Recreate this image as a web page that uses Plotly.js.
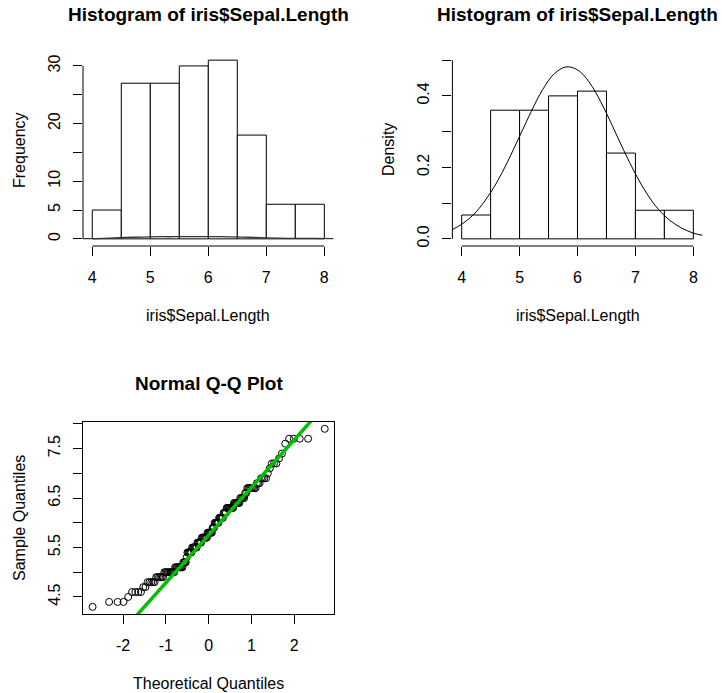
<!DOCTYPE html>
<html><head><meta charset="utf-8">
<script src="https://cdn.plot.ly/plotly-3.0.1.min.js"></script>
<style>html,body{margin:0;padding:0;background:#fff}#chart{width:722px;height:693px}</style>
</head><body><div id="chart"></div>
<script>
// ---- Histogram data (iris$Sepal.Length, breaks every 0.5) ----
const binStarts = [4.0, 4.5, 5.0, 5.5, 6.0, 6.5, 7.0, 7.5];
const binWidth = 0.5;
const binCounts = [5, 27, 27, 30, 31, 18, 6, 6];
const binDensities = [0.0667, 0.36, 0.36, 0.40, 0.4133, 0.24, 0.08, 0.08];

// ---- Normal curve on the density histogram ----
const normX = [3.84, 4.0, 4.2, 4.4, 4.6, 4.8, 5.0, 5.2, 5.4, 5.6, 5.8, 6.0, 6.2, 6.4, 6.6, 6.8, 7.0, 7.2, 7.4, 7.6, 7.8, 8.0, 8.16];
const normY = [0.026, 0.041, 0.067, 0.106, 0.156, 0.218, 0.287, 0.356, 0.418, 0.462, 0.481, 0.473, 0.439, 0.384, 0.317, 0.247, 0.182, 0.126, 0.082, 0.051, 0.030, 0.016, 0.010];

// ---- Faint density line drawn on the frequency histogram ----
const kdeX = [3.84, 4.2, 4.6, 5.0, 5.4, 5.8, 6.2, 6.6, 7.0, 7.4, 7.8, 8.16];
const kdeY = [0.03, 0.10, 0.24, 0.36, 0.37, 0.40, 0.39, 0.30, 0.17, 0.08, 0.07, 0.03];

// ---- Sample values for the Q-Q plot (value / count) ----
const sepalValues = [4.3, 4.4, 4.5, 4.6, 4.7, 4.8, 4.9, 5.0, 5.1, 5.2, 5.3, 5.4, 5.5, 5.6, 5.7, 5.8, 5.9, 6.0, 6.1, 6.2, 6.3, 6.4, 6.5, 6.6, 6.7, 6.8, 6.9, 7.0, 7.1, 7.2, 7.3, 7.4, 7.6, 7.7, 7.9];
const sepalCounts = [1, 3, 1, 4, 2, 5, 6, 10, 9, 4, 1, 6, 7, 6, 8, 7, 3, 6, 6, 4, 9, 7, 5, 2, 8, 3, 4, 1, 1, 3, 1, 1, 1, 4, 1];

// ---- Tick labels ----
const histXTicks = [4, 5, 6, 7, 8];
const freqTicks = [0, 5, 10, 15, 20, 25, 30];
const freqTickText = ['0', '5', '10', '', '20', '', '30'];
const densTicks = [0, 0.1, 0.2, 0.3, 0.4, 0.5];
const densTickText = ['0.0', '', '0.2', '', '0.4', ''];
const qqXTicks = [-2, -1, 0, 1, 2];
const qqXTickText = ['-2', '-1', '0', '1', '2'];
const qqYTicks = [4.5, 5.0, 5.5, 6.0, 6.5, 7.0, 7.5, 8.0];
const qqYTickText = ['4.5', '', '5.5', '', '6.5', '', '7.5', ''];

// ---- derived ----
const binCenters = binStarts.map(s => s + binWidth / 2);
const sample = [];
sepalValues.forEach((v, i) => { for (let k = 0; k < sepalCounts[i]; k++) sample.push(v); });
const n = sample.length;

function qnorm(p) {
  const a = [-3.969683028665376e+01, 2.209460984245205e+02, -2.759285104469687e+02, 1.383577518672690e+02, -3.066479806614716e+01, 2.506628277459239e+00];
  const b = [-5.447609879822406e+01, 1.615858368580409e+02, -1.556989798598866e+02, 6.680131188771972e+01, -1.328068155288572e+01];
  const c = [-7.784894002430293e-03, -3.223964580411365e-01, -2.400758277161838e+00, -2.549732539343734e+00, 4.374664141464968e+00, 2.938163982698783e+00];
  const d = [7.784695709041462e-03, 3.224671290700398e-01, 2.445134137142996e+00, 3.754408661907416e+00];
  const pl = 0.02425, ph = 1 - pl;
  let q, r;
  if (p < pl) { q = Math.sqrt(-2 * Math.log(p)); return (((((c[0]*q+c[1])*q+c[2])*q+c[3])*q+c[4])*q+c[5]) / ((((d[0]*q+d[1])*q+d[2])*q+d[3])*q+1); }
  if (p > ph) { q = Math.sqrt(-2 * Math.log(1 - p)); return -(((((c[0]*q+c[1])*q+c[2])*q+c[3])*q+c[4])*q+c[5]) / ((((d[0]*q+d[1])*q+d[2])*q+d[3])*q+1); }
  q = p - 0.5; r = q * q;
  return (((((a[0]*r+a[1])*r+a[2])*r+a[3])*r+a[4])*r+a[5])*q / (((((b[0]*r+b[1])*r+b[2])*r+b[3])*r+b[4])*r+1);
}
const theo = sample.map((_, i) => qnorm((i + 1 - 0.5) / n));
function quant7(arr, p) { const h = (arr.length - 1) * p; const lo = Math.floor(h); return arr[lo] + (h - lo) * (arr[Math.min(lo + 1, arr.length - 1)] - arr[lo]); }
const q1 = quant7(sample, 0.25), q3 = quant7(sample, 0.75);
const slope = (q3 - q1) / (qnorm(0.75) - qnorm(0.25));
const intercept = q1 - slope * qnorm(0.25);

const W = 722, H = 693;
const px = v => v / W, py = v => 1 - v / H;
const dom1x = [px(83), px(333.6)], dom1y = [py(246), py(53)];
const dom2x = [px(452.4), px(702.6)], dom2y = [py(246), py(53)];
const dom3x = [px(83.3), px(334)], dom3y = [py(614), py(421.7)];
const qqXRange = [-2.93, 2.93];
const qqYRange = [4.156, 8.044];

const FONT = 'Liberation Sans, Arial, Helvetica, sans-serif';
const baseAxis = {
  showgrid: false, zeroline: false, ticks: 'outside', ticklen: 9, tickwidth: 1, tickcolor: '#000',
  tickfont: {family: FONT, size: 16, color: '#000'}, fixedrange: true
};
const xAxisExtra = {ticklabelstandoff: 8};
const yAxisExtra = {ticklabelstandoff: 7, tickangle: -90};

const traces = [
  {type: 'bar', x: binCenters, y: binCounts, width: binWidth, xaxis: 'x', yaxis: 'y',
   marker: {color: '#fff', line: {color: '#000', width: 1}}, hoverinfo: 'skip'},
  {type: 'scatter', mode: 'lines', x: kdeX, y: kdeY, xaxis: 'x', yaxis: 'y',
   line: {color: '#333', width: 1.3, shape: 'spline'}, hoverinfo: 'skip'},
  {type: 'bar', x: binCenters, y: binDensities, width: binWidth, xaxis: 'x2', yaxis: 'y2',
   marker: {color: '#fff', line: {color: '#000', width: 1}}, hoverinfo: 'skip'},
  {type: 'scatter', mode: 'lines', x: normX, y: normY, xaxis: 'x2', yaxis: 'y2',
   line: {color: '#000', width: 1, shape: 'spline'}, hoverinfo: 'skip'},
  {type: 'scatter', mode: 'markers', x: theo, y: sample, xaxis: 'x3', yaxis: 'y3',
   marker: {symbol: 'circle-open', size: 7, color: '#000', line: {width: 1, color: '#000'}}, hoverinfo: 'skip'},
  {type: 'scatter', mode: 'lines', x: qqXRange, y: qqXRange.map(v => intercept + slope * v), xaxis: 'x3', yaxis: 'y3',
   line: {color: '#00C000', width: 3.5}, hoverinfo: 'skip'}
];

function ann(text, x, y, opts) {
  return Object.assign({text, x: px(x), y: py(y), xref: 'paper', yref: 'paper', showarrow: false,
    xanchor: 'center', yanchor: 'middle', font: {family: FONT, size: 16, color: '#000'}}, opts || {});
}
const bold = {family: FONT, size: 19, color: '#000', weight: 'bold'};

const layout = {
  width: W, height: H, margin: {l: 0, r: 0, t: 0, b: 0}, showlegend: false,
  paper_bgcolor: '#fff', plot_bgcolor: 'rgba(0,0,0,0)', barmode: 'overlay',
  xaxis: Object.assign({}, baseAxis, xAxisExtra, {domain: dom1x, range: [3.84, 8.16], tickvals: histXTicks, anchor: 'y', showline: false}),
  yaxis: Object.assign({}, baseAxis, yAxisExtra, {domain: dom1y, range: [-1.24, 32.24], tickvals: freqTicks, ticktext: freqTickText, anchor: 'x', showline: false}),
  xaxis2: Object.assign({}, baseAxis, xAxisExtra, {domain: dom2x, range: [3.84, 8.16], tickvals: histXTicks, anchor: 'y2', showline: false}),
  yaxis2: Object.assign({}, baseAxis, yAxisExtra, {domain: dom2y, range: [-0.02, 0.52], tickvals: densTicks, ticktext: densTickText, anchor: 'x2', showline: false}),
  xaxis3: Object.assign({}, baseAxis, xAxisExtra, {domain: dom3x, range: qqXRange, tickvals: qqXTicks, ticktext: qqXTickText, anchor: 'y3', showline: true, linecolor: '#000', linewidth: 1, mirror: true}),
  yaxis3: Object.assign({}, baseAxis, yAxisExtra, {domain: dom3y, range: qqYRange, tickvals: qqYTicks, ticktext: qqYTickText, anchor: 'x3', showline: true, linecolor: '#000', linewidth: 1, mirror: true}),
  shapes: [
    {type: 'line', xref: 'x', yref: 'y domain', x0: histXTicks[0], x1: histXTicks[histXTicks.length - 1], y0: 0, y1: 0, line: {color: '#000', width: 1}},
    {type: 'line', xref: 'x domain', yref: 'y', x0: 0, x1: 0, y0: freqTicks[0], y1: freqTicks[freqTicks.length - 1], line: {color: '#000', width: 1}},
    {type: 'line', xref: 'x2', yref: 'y2 domain', x0: histXTicks[0], x1: histXTicks[histXTicks.length - 1], y0: 0, y1: 0, line: {color: '#000', width: 1}},
    {type: 'line', xref: 'x2 domain', yref: 'y2', x0: 0, x1: 0, y0: densTicks[0], y1: densTicks[densTicks.length - 1], line: {color: '#000', width: 1}}
  ],
  annotations: [
    ann('Histogram of iris$Sepal.Length', 208.3, 14, {font: bold}),
    ann('Histogram of iris$Sepal.Length', 577.5, 14, {font: bold}),
    ann('Normal Q-Q Plot', 208.6, 383, {font: bold}),
    ann('iris$Sepal.Length', 208.3, 315),
    ann('iris$Sepal.Length', 577.5, 315),
    ann('Theoretical Quantiles', 208.6, 683),
    ann('Frequency', 19, 150, {textangle: -90}),
    ann('Density', 388, 150, {textangle: -90}),
    ann('Sample Quantiles', 19, 518, {textangle: -90})
  ]
};

Plotly.newPlot('chart', traces, layout, {staticPlot: true, displayModeBar: false});
</script>
</body></html>
